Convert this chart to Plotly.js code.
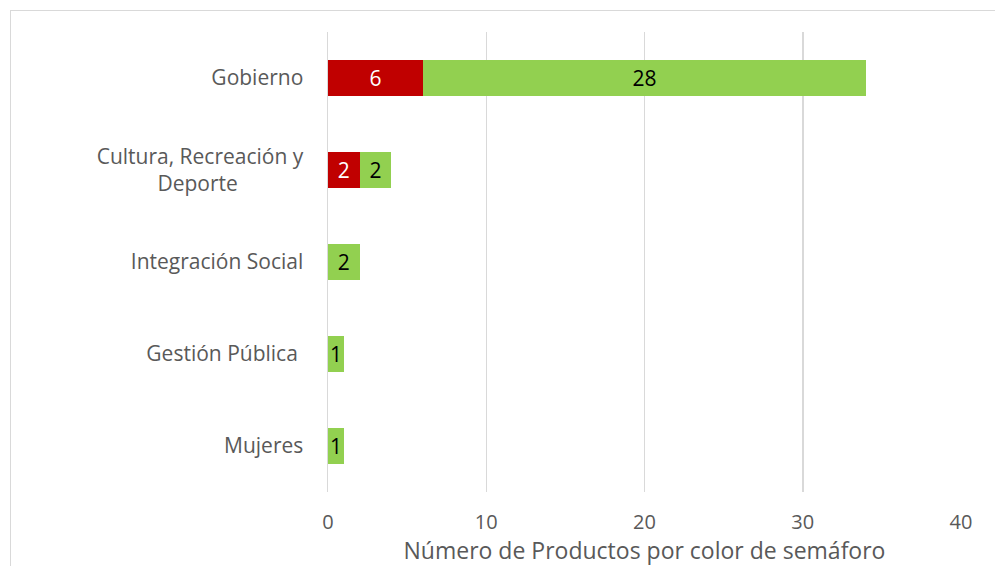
<!DOCTYPE html>
<html>
<head>
<meta charset="utf-8">
<script src="https://cdn.plot.ly/plotly-3.0.1.min.js"></script>
<style>
  html, body { margin: 0; padding: 0; background: #fff; }
  #wrap { position: relative; width: 995px; height: 566px; overflow: hidden; }
  #chart { position: absolute; left: 0; top: 0; width: 995px; height: 566px; }
  #frame { position: absolute; left: 10px; top: 10px; width: 1000px; height: 600px;
           border-left: 1.5px solid #d9d9d9; border-top: 1.5px solid #d9d9d9; pointer-events: none; }
</style>
</head>
<body>
<div id="wrap">
  <div id="chart"></div>
  <div id="frame"></div>
</div>
<script>
const categories = ["Gobierno", "Cultura, Recreación y<br>Deporte", "Integración Social", "Gestión Pública", "Mujeres"];
const tickLabels = ["Gobierno", "Cultura, Recreación y<br>Deporte" + "\u00a0".repeat(12), "Integración Social", "Gestión Pública\u00a0", "Mujeres"];
const redValues = [6, 2, 0, 0, 0];
const greenValues = [28, 2, 2, 1, 1];
const xTicks = [0, 10, 20, 30, 40];

const FONT = "'Open Sans', sans-serif";
const lbl = v => v.map(x => x > 0 ? String(x) : "");

const traces = [
  {
    type: "bar", orientation: "h", name: "Rojo",
    y: categories, x: redValues,
    marker: { color: "#C00000" },
    text: lbl(redValues), textposition: "inside", insidetextanchor: "middle",
    textangle: 0, constraintext: "none",
    insidetextfont: { color: "#ffffff", size: 21, family: FONT },
    hoverinfo: "x+y"
  },
  {
    type: "bar", orientation: "h", name: "Verde",
    y: categories, x: greenValues,
    marker: { color: "#92D050" },
    text: lbl(greenValues), textposition: "inside", insidetextanchor: "middle",
    textangle: 0, constraintext: "none",
    insidetextfont: { color: "#000000", size: 21, family: FONT },
    hoverinfo: "x+y"
  }
];

const layout = {
  width: 995, height: 566,
  margin: { l: 328, r: 34, t: 32, b: 74, pad: 0 },
  barmode: "stack",
  bargap: 0.61,
  showlegend: false,
  paper_bgcolor: "#ffffff",
  plot_bgcolor: "#ffffff",
  font: { family: FONT, color: "#595959", size: 18 },
  xaxis: {
    range: [0, 40],
    tickvals: xTicks,
    ticktext: xTicks.map(String),
    showgrid: true, gridcolor: "#d9d9d9", gridwidth: 1.5,
    zeroline: false, showline: false, ticks: "",
    ticklabelstandoff: 16,
    tickfont: { size: 20, color: "#595959", family: FONT },
    title: { text: "Número de Productos por color de semáforo", font: { size: 23, color: "#595959", family: FONT }, standoff: 4 },
    fixedrange: true
  },
  yaxis: {
    type: "category",
    categoryorder: "array",
    categoryarray: categories,
    tickvals: categories,
    ticktext: tickLabels,
    autorange: "reversed",
    showgrid: false, zeroline: false, showline: true, linecolor: "#d9d9d9", linewidth: 1.5,
    ticks: "", ticklabelstandoff: 19,
    tickfont: { size: 21, color: "#595959", family: FONT },
    fixedrange: true
  }
};

Plotly.newPlot("chart", traces, layout, { displayModeBar: false, staticPlot: true });
</script>
</body>
</html>
